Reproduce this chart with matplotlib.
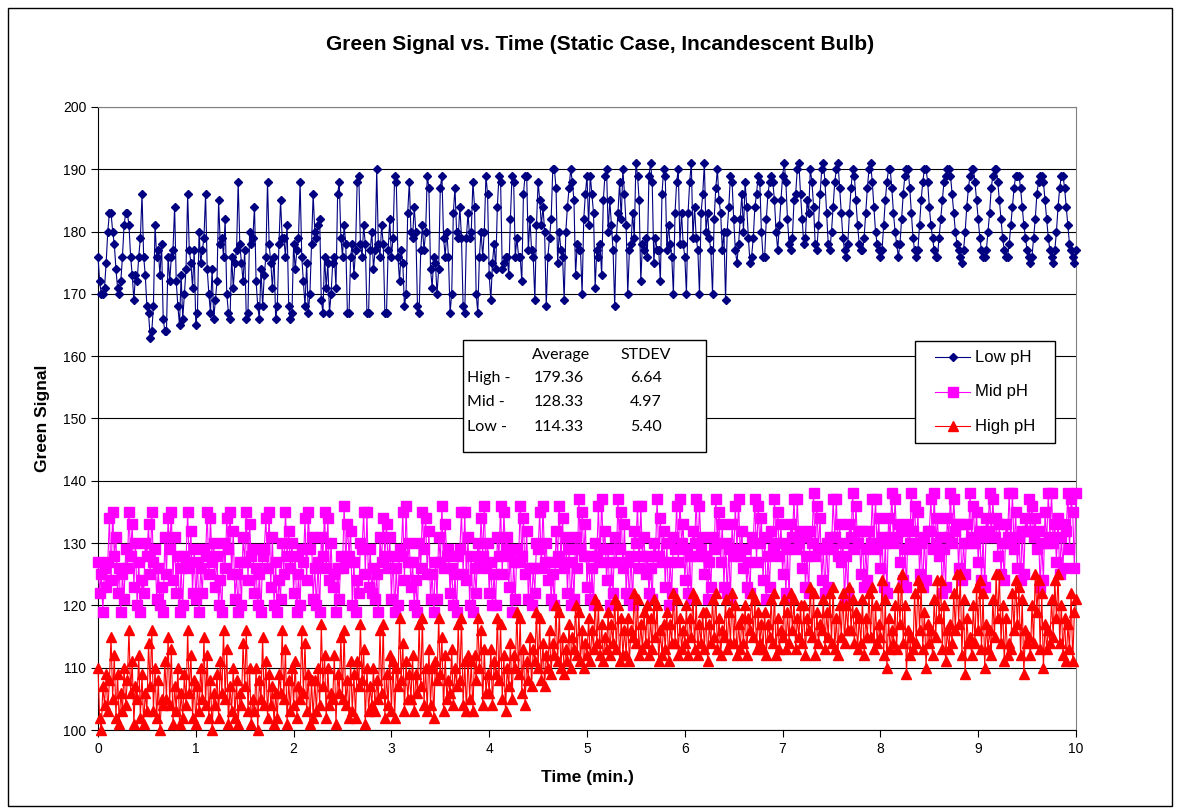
import matplotlib
matplotlib.use('Agg')
import matplotlib.pyplot as plt
import numpy as np
from matplotlib.patches import Rectangle
from matplotlib.lines import Line2D

plt.rcParams['font.family'] = ['Liberation Sans', 'DejaVu Sans']

# green channel readings, one per second over 10 minutes
low_ph = [
    176, 172, 170, 170, 171, 175, 180, 183, 183, 180, 178, 174, 171, 170, 172, 176, 181, 183, 183, 181,
    176, 173, 169, 173, 172, 176, 179, 186, 176, 173, 168, 167, 163, 164, 168, 181, 176, 177, 173, 178,
    166, 164, 164, 176, 172, 176, 177, 184, 172, 168, 165, 173, 166, 170, 174, 186, 177, 175, 171, 177,
    165, 167, 180, 175, 177, 179, 186, 174, 170, 167, 174, 166, 169, 172, 185, 178, 179, 176, 182, 170,
    167, 166, 176, 171, 175, 177, 188, 178, 175, 172, 177, 166, 167, 180, 178, 179, 184, 172, 168, 166,
    174, 168, 173, 176, 188, 178, 175, 171, 176, 166, 168, 178, 185, 179, 179, 176, 181, 168, 166, 167,
    178, 174, 177, 179, 188, 176, 172, 168, 175, 167, 170, 178, 186, 180, 179, 181, 182, 169, 167, 176,
    171, 175,
    167, 170, 175, 176, 171, 186, 188, 179, 176, 181, 178, 167, 167, 176, 178, 173, 177, 188, 189, 178,
    176, 181, 178, 167, 167, 177, 180, 174, 177, 190, 178, 176, 181, 178, 167, 167, 177, 182, 176, 179,
    189, 188, 176, 172, 177, 175, 168, 170, 183, 188, 180, 179, 184, 180, 168, 167, 177, 181, 177, 180,
    189, 187, 174, 171, 176, 175, 170, 174, 187, 189, 179, 176, 180, 176, 167, 170, 183, 187, 180, 179,
    184, 179, 168, 167, 179, 183, 179, 180, 188, 184, 170, 167, 176, 180, 176, 180, 189, 186, 173, 169,
    175, 178, 174, 184, 189, 188, 174, 175, 176, 176, 173, 182, 189, 188, 176, 179, 176, 176, 172, 186,
    189, 189, 177, 182, 177, 176, 169, 181, 188, 185, 181, 184, 180, 168, 176, 179, 182, 190, 190, 187,
    175, 180, 177, 176,
    169, 180, 184, 187, 190, 188, 185, 173, 178, 177, 177, 170, 182, 186, 189, 181, 189, 186, 183, 171,
    177, 176, 178, 173, 185, 189, 190, 180, 185, 181, 177, 168, 179, 183, 188, 182, 190, 186, 181, 170,
    177, 178, 183, 179, 191, 189, 185, 172, 178, 177, 179, 176, 189, 191, 188, 175, 179, 177, 177, 172,
    186, 190, 189, 177, 181, 178, 176, 170, 183, 188, 190, 178, 183, 178, 176, 170, 183, 188, 191, 179,
    184, 179, 177, 170, 183, 186, 191, 180, 183, 179, 177, 170, 182, 187, 190, 185, 183, 177, 180, 169,
    180, 184, 189, 188, 182, 177, 175, 178, 182, 186, 180, 188, 184, 179, 175, 176, 179, 184, 186, 189,
    188, 180, 176, 176, 182, 186, 188, 189, 188, 185, 180, 177, 181, 185, 189, 191, 188, 182, 178, 177,
    179, 185, 186, 190, 191, 186, 182, 178, 179, 185, 183, 190,
    188, 184, 178, 177, 181, 186, 190, 191, 188, 183, 178, 177, 180, 184, 188, 190, 191, 187, 183, 179,
    177, 176, 178, 183, 187, 190, 189, 185, 181, 178, 177, 177, 179, 183, 187, 190, 191, 188, 184, 180,
    178, 177, 176, 177, 181, 185, 188, 190, 190, 187, 183, 180, 178, 176, 178, 182, 186, 189, 190, 190,
    187, 183, 179, 177, 176, 177, 181, 185, 188, 190, 190, 188, 184, 181, 179, 177, 176, 176, 179, 182,
    185, 188, 189, 190, 190, 189, 186, 183, 180, 178, 177, 176, 175, 177, 180, 184, 187, 189, 190, 190,
    188, 185, 182, 179, 177, 176, 176, 177, 180, 183, 187, 189, 190, 190, 188, 185, 182, 179, 177, 176,
    176, 178, 181, 184, 187, 189, 189, 189, 187, 184, 181, 179, 177, 176, 175, 176, 179, 182, 186, 188,
    189, 189, 188, 185, 182, 179, 177, 176, 175, 177, 180, 184, 187, 189, 189, 187, 184, 181, 178, 177,
    176, 175, 177,
]

mid_ph = [
    127, 122, 125, 119, 126, 123, 127, 134, 124, 135, 128, 131,
    122, 126, 119, 125, 121, 129, 126, 135, 128, 133, 123, 130,
    120, 127, 119, 124, 122, 130, 128, 133, 125, 135, 127, 129,
    121, 126, 120, 123, 119, 131, 125, 134, 129, 135, 124, 131,
    122, 128, 119, 126, 120, 128, 127, 135, 126, 132, 122, 129,
    121, 127, 119, 126, 122, 129, 128, 135, 125, 134, 127, 130,
    123, 128, 120, 124, 119, 130, 126, 134, 129, 135, 125, 132,
    121, 125, 119, 127, 120, 131, 127, 135, 124, 133, 128, 129,
    122, 126, 120, 125, 119, 128, 129, 134, 126, 135, 123, 131,
    120, 127, 119, 124, 121, 130, 125, 135, 128, 132, 126, 130,
    122, 128, 119, 125, 120, 129, 127, 134, 124, 135, 129, 131,
    121, 126, 120, 127, 119, 131, 128, 135, 126, 134, 124, 130,
    123, 125, 119, 126, 121, 128, 126, 136, 127, 133, 128, 132,
    120, 127, 119, 124, 122, 130, 129, 135, 125, 135, 123, 129,
    122, 126, 121, 125, 119, 131, 127, 134, 128, 133, 126, 131,
    121, 128, 119, 126, 120, 129, 128, 135, 124, 136, 127, 130,
    123, 127, 120, 124, 119, 130, 126, 135, 129, 134, 125, 132,
    121, 125, 119, 127, 121, 131, 127, 136, 126, 133, 128, 129,
    122, 126, 120, 125, 119, 128, 129, 135, 125, 135, 124, 131,
    120, 128, 119, 126, 122, 130, 127, 134, 128, 136, 126, 130,
    122, 127, 120, 125, 120, 131, 128, 136, 125, 135, 129, 131,
    123, 128, 119, 127, 121, 129, 127, 136, 128, 134, 125, 132,
    121, 126, 120, 126, 122, 130, 129, 135, 126, 136, 127, 130,
    124, 127, 121, 125, 120, 132, 128, 136, 127, 134, 126, 131,
    122, 129, 120, 127, 121, 131, 126, 137, 129, 135, 128, 133,
    123, 128, 121, 126, 120, 130, 128, 136, 127, 137, 129, 132,
    124, 129, 120, 127, 122, 131, 127, 137, 129, 135, 126, 133,
    122, 127, 121, 128, 120, 132, 130, 136, 126, 136, 128, 131,
    125, 128, 122, 126, 121, 130, 128, 137, 128, 134, 127, 132,
    123, 130, 120, 127, 122, 131, 129, 136, 127, 137, 130, 133,
    124, 129, 122, 128, 121, 132, 130, 137, 128, 136, 129, 131,
    125, 128, 121, 127, 123, 131, 129, 137, 130, 135, 127, 133,
    123, 130, 122, 129, 121, 133, 128, 136, 129, 137, 128, 132,
    126, 129, 123, 127, 122, 131, 130, 137, 127, 136, 130, 134,
    124, 131, 121, 128, 123, 132, 129, 137, 130, 135, 128, 133,
    125, 130, 122, 129, 121, 133, 131, 137, 129, 137, 130, 132,
    126, 131, 123, 128, 122, 132, 130, 138, 128, 136, 129, 134,
    124, 129, 122, 130, 123, 131, 129, 137, 131, 137, 128, 133,
    127, 130, 121, 128, 122, 133, 131, 138, 129, 136, 130, 132,
    125, 132, 123, 129, 124, 132, 130, 137, 130, 137, 129, 134,
    126, 131, 123, 130, 122, 134, 131, 138, 130, 137, 131, 133,
    127, 132, 124, 129, 123, 133, 130, 138, 132, 136, 129, 135,
    125, 130, 123, 131, 124, 132, 132, 137, 129, 138, 130, 134,
    128, 131, 122, 129, 123, 134, 131, 138, 130, 137, 132, 133,
    126, 133, 124, 130, 125, 133, 130, 138, 131, 136, 130, 135,
    127, 132, 124, 131, 123, 134, 132, 138, 131, 137, 131, 134,
    128, 133, 125, 130, 124, 133, 131, 138, 130, 138, 129, 135,
    126, 131, 124, 132, 125, 134, 132, 137, 132, 136, 131, 134,
    129, 132, 123, 130, 124, 135, 130, 138, 131, 138, 130, 133,
    127, 134, 125, 131, 126, 133, 132, 138, 129, 137, 135, 126,
    138,
]

high_ph = [
    110, 102, 100, 107, 104, 109, 103, 108, 115, 105, 112, 102,
    109, 101, 106, 103, 110, 104, 108, 116, 106, 111, 101, 107,
    105, 112, 102, 109, 101, 106, 103, 114, 107, 116, 103, 110,
    102, 108, 100, 105, 104, 111, 105, 115, 104, 113, 101, 107,
    103, 110, 101, 106, 102, 109, 104, 116, 106, 112, 102, 108,
    101, 107, 103, 110, 105, 115, 104, 112, 102, 108, 100, 106,
    104, 109, 102, 111, 106, 116, 105, 113, 101, 107, 103, 110,
    102, 108, 101, 106, 104, 114, 107, 116, 103, 110, 101, 105,
    103, 110, 100, 108, 105, 115, 104, 111, 102, 109, 104, 107,
    101, 106, 102, 109, 106, 116, 105, 113, 101, 108, 103, 110,
    104, 111, 102, 107, 105, 116, 106, 114, 103, 109, 101, 108,
    102, 108, 103, 110, 104, 117, 107, 112, 102, 110, 104, 106,
    105, 112, 101, 109, 106, 115, 105, 116, 104, 108, 102, 111,
    103, 109, 102, 111, 107, 117, 108, 113, 101, 110, 103, 107,
    104, 110, 103, 108, 105, 116, 106, 117, 102, 109, 104, 112,
    103, 111, 102, 110, 107, 118, 108, 114, 103, 111, 105, 109,
    105, 112, 103, 109, 106, 117, 107, 118, 104, 110, 103, 113,
    104, 110, 102, 111, 108, 118, 109, 115, 103, 112, 105, 108,
    106, 113, 104, 110, 107, 117, 108, 118, 104, 111, 103, 112,
    105, 111, 103, 112, 108, 118, 110, 116, 104, 113, 106, 109,
    106, 113, 104, 111, 109, 118, 108, 117, 105, 112, 103, 110,
    107, 114, 105, 112, 110, 119, 109, 118, 106, 113, 104, 111,
    108, 115, 107, 113, 111, 119, 110, 118, 108, 114, 107, 112,
    110, 116, 109, 114, 112, 120, 111, 119, 110, 115, 109, 113,
    111, 117, 110, 115, 113, 120, 112, 119, 111, 116, 110, 114,
    112, 118, 111, 116, 113, 121, 114, 120, 112, 117, 111, 115,
    113, 119, 112, 117, 114, 121, 113, 120, 111, 118, 112, 116,
    112, 118, 111, 116, 115, 122, 114, 121, 112, 117, 113, 119,
    114, 120, 112, 118, 113, 121, 115, 120, 111, 116, 112, 117,
    113, 119, 111, 117, 114, 122, 114, 121, 112, 118, 113, 116,
    114, 120, 112, 118, 115, 122, 113, 121, 112, 117, 114, 119,
    113, 119, 111, 117, 114, 121, 115, 122, 113, 118, 112, 116,
    115, 121, 113, 119, 114, 122, 114, 120, 112, 117, 113, 118,
    114, 120, 112, 118, 116, 122, 115, 121, 113, 119, 114, 117,
    113, 119, 112, 117, 115, 121, 114, 122, 112, 118, 113, 116,
    115, 121, 113, 119, 114, 122, 116, 121, 113, 118, 115, 120,
    114, 120, 112, 118, 116, 123, 115, 122, 112, 119, 114, 117,
    116, 121, 113, 119, 115, 122, 114, 123, 113, 118, 112, 120,
    115, 122, 114, 120, 116, 123, 116, 121, 114, 119, 113, 118,
    114, 121, 112, 118, 115, 122, 115, 123, 113, 120, 114, 117,
    115, 124, 112, 121, 110, 118, 113, 116, 114, 120, 113, 123,
    117, 125, 114, 120, 109, 116, 112, 115, 113, 122, 114, 124,
    116, 123, 113, 119, 110, 117, 114, 116, 112, 121, 115, 124,
    118, 124, 113, 120, 111, 116, 113, 117, 114, 122, 116, 125,
    117, 125, 112, 121, 109, 118, 114, 115, 112, 120, 114, 123,
    116, 124, 113, 122, 110, 117, 113, 116, 112, 121, 115, 125,
    118, 125, 114, 120, 111, 118, 112, 114, 113, 122, 116, 124,
    117, 123, 112, 121, 109, 116, 114, 115, 112, 120, 114, 125,
    119, 124, 113, 122, 110, 117, 113, 116, 114, 121, 115, 124,
    118, 125, 114, 120, 112, 118, 111, 117, 113, 122, 111, 119,
    121,
]

series_labels = ['Low pH', 'Mid pH', 'High pH']
stat_rows = ['High -', 'Mid -', 'Low -']
stat_avg = ['179.36', '128.33', '114.33']
stat_sd = ['6.64', '4.97', '5.40']

W, H = 1180, 809


def fx(px):
    return px / W


def fy(py):
    return 1 - py / H


fig = plt.figure(figsize=(W / 100, H / 100), dpi=100)
ax = fig.add_axes([fx(98), fy(730), (1076 - 98) / W, (730 - 107) / H])

styles = [
    dict(color='#000080', marker='D', markersize=4),
    dict(color='#FF00FF', marker='s', markersize=6.5),
    dict(color='#FF0000', marker='^', markersize=7),
]

for i, (vals, lab, st) in enumerate(zip([low_ph, mid_ph, high_ph], series_labels, styles)):
    t = np.linspace(0, 10, len(vals))
    ax.plot(t, vals, linewidth=0.8, label=lab, clip_on=False, zorder=3 + i, **st)

ax.set_xlim(0, 10)
ax.set_ylim(100, 200)
ax.set_xticks(range(0, 11))
ax.set_yticks(range(100, 201, 10))
ax.yaxis.grid(True, color='black', linewidth=0.8)
ax.set_axisbelow(True)
for s in ['top', 'right']:
    ax.spines[s].set_color('#808080')
ax.tick_params(direction='out', length=5, labelsize=10, width=0.8)

ax.set_xlabel('Time (min.)', fontsize=12.5, fontweight='bold', labelpad=10)
ax.set_ylabel('Green Signal', fontsize=12.5, fontweight='bold', labelpad=9)

fig.text(fx(600), fy(45), 'Green Signal vs. Time (Static Case, Incandescent Bulb)',
         ha='center', va='center', fontsize=15, fontweight='bold')

# legend, drawn by hand so the box spacing can be set exactly
fig.add_artist(Rectangle((fx(915), fy(443)), (1055 - 915) / W, (443 - 341) / H,
                         transform=fig.transFigure, facecolor='white',
                         edgecolor='black', linewidth=1, zorder=6))
for i, (lab, st) in enumerate(zip(series_labels, styles)):
    y = fy(357 + 34.5 * i)
    fig.add_artist(Line2D([fx(935), fx(970)], [y, y], color=st['color'], linewidth=0.8,
                          transform=fig.transFigure, zorder=7))
    fig.add_artist(Line2D([fx(952.5)], [y], linestyle='none', transform=fig.transFigure,
                          zorder=8, **st))
    fig.text(fx(975), y, lab, fontsize=12, va='center', zorder=8)

# summary statistics box
fig.add_artist(Rectangle((fx(463), fy(452)), (706 - 463) / W, (452 - 340) / H,
                         transform=fig.transFigure, facecolor='white', edgecolor='black',
                         linewidth=1, zorder=6))
tfont = dict(family=['Lato', 'DejaVu Sans'], fontsize=11.5, va='center', zorder=7)
fig.text(fx(561), fy(355), 'Average', ha='center', **tfont)
fig.text(fx(646), fy(355), 'STDEV', ha='center', **tfont)
for i, (lab, a, s) in enumerate(zip(stat_rows, stat_avg, stat_sd)):
    y = fy(378 + i * 24.5)
    fig.text(fx(467), y, lab, ha='left', **tfont)
    fig.text(fx(559), y, a, ha='center', **tfont)
    fig.text(fx(646), y, s, ha='center', **tfont)

# chart border
fig.add_artist(Rectangle((fx(8), fy(806)), (1172 - 8) / W, (806 - 8) / H,
                         transform=fig.transFigure, facecolor='none',
                         edgecolor='black', linewidth=1))

fig.savefig('out.png', dpi=100)
